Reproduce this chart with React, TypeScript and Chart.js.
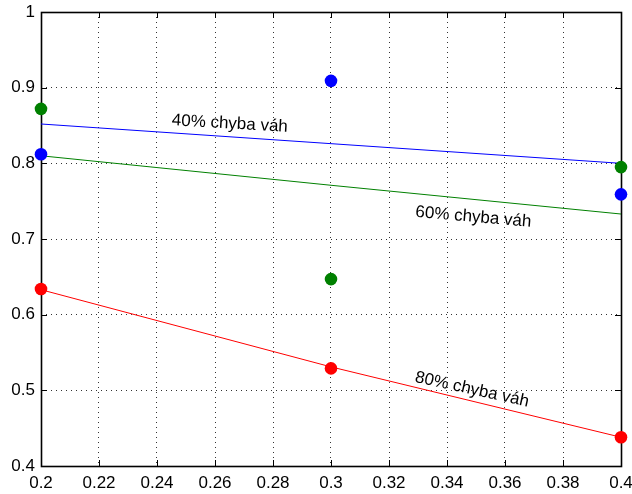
import { useEffect, useRef } from "react";
import { Chart, registerables } from "chart.js";

Chart.register(...registerables);

// Axis ticks
const xTicks = [0.2, 0.22, 0.24, 0.26, 0.28, 0.3, 0.32, 0.34, 0.36, 0.38, 0.4];
const yTicks = [0.4, 0.5, 0.6, 0.7, 0.8, 0.9, 1];

// Measured points
const pointX = [0.2, 0.3, 0.4];
const blueDots = [0.812, 0.909, 0.759];
const greenDots = [0.872, 0.647, 0.795];
const redDots = [0.634, 0.529, 0.438];

// Trend lines
const fitX = [0.2, 0.3, 0.4];
const blueFit = [0.852, 0.826, 0.8];
const greenFit = [0.81, 0.771, 0.733];
const redFit = [0.633, 0.531, 0.438];

// Inline line labels (anchor = start of baseline, angle in degrees)
const labelTexts = ["40% chyba váh", "60% chyba váh", "80% chyba váh"];
const labelX = [0.245, 0.329, 0.3287];
const labelY = [0.8505, 0.7293, 0.5114];
const labelAngles = [3.3, 4.9, 12.4];

const FONT = "'Liberation Sans', Arial, Helvetica, sans-serif";

const toXY = (xs: number[], ys: number[]) => xs.map((x, i) => ({ x, y: ys[i] }));
const fmt = (v: number | string) => String(parseFloat(Number(v).toFixed(2)));

const framePlugin = {
  id: "frame",
  beforeDatasetsDraw(chart: any) {
    const { ctx, chartArea: a, scales } = chart;
    ctx.save();
    ctx.strokeStyle = "#000";
    ctx.lineWidth = 1;
    // inward tick marks on all four sides
    const tl = 6;
    ctx.beginPath();
    xTicks.forEach((v) => {
      const px = Math.round(scales.x.getPixelForValue(v)) + 0.5;
      ctx.moveTo(px, a.bottom);
      ctx.lineTo(px, a.bottom - tl);
      ctx.moveTo(px, a.top);
      ctx.lineTo(px, a.top + tl);
    });
    yTicks.forEach((v) => {
      const py = Math.round(scales.y.getPixelForValue(v)) + 0.5;
      ctx.moveTo(a.left, py);
      ctx.lineTo(a.left + tl, py);
      ctx.moveTo(a.right, py);
      ctx.lineTo(a.right - tl, py);
    });
    ctx.stroke();
    // box around plot area
    ctx.lineWidth = 1.6;
    ctx.strokeRect(a.left + 0.5, a.top + 0.5, a.right - a.left, a.bottom - a.top);
    ctx.restore();
  },
  afterDatasetsDraw(chart: any) {
    const { ctx, scales } = chart;
    ctx.save();
    ctx.fillStyle = "#000";
    ctx.font = `17px ${FONT}`;
    ctx.textAlign = "left";
    ctx.textBaseline = "alphabetic";
    labelTexts.forEach((t, i) => {
      const px = scales.x.getPixelForValue(labelX[i]);
      const py = scales.y.getPixelForValue(labelY[i]);
      ctx.save();
      ctx.translate(px, py);
      ctx.rotate((labelAngles[i] * Math.PI) / 180);
      ctx.fillText(t, 0, 0);
      ctx.restore();
    });
    ctx.restore();
  },
};

export default function App() {
  const ref = useRef<HTMLCanvasElement | null>(null);

  useEffect(() => {
    if (!ref.current) return;
    const lineDs = (data: number[], color: string) => ({
      data: toXY(fitX, data),
      showLine: true,
      borderColor: color,
      borderWidth: 1,
      pointRadius: 0,
      fill: false,
      order: 2,
      clip: false as any,
    });
    const dotDs = (data: number[], color: string) => ({
      data: toXY(pointX, data),
      showLine: false,
      backgroundColor: color,
      borderColor: color,
      borderWidth: 0,
      pointRadius: 6.3,
      order: 1,
      clip: false as any,
    });
    const chart = new Chart(ref.current, {
      type: "scatter",
      data: {
        datasets: [
          dotDs(blueDots, "#0000ff"),
          dotDs(greenDots, "#008000"),
          dotDs(redDots, "#ff0000"),
          lineDs(blueFit, "#0000ff"),
          lineDs(greenFit, "#008000"),
          lineDs(redFit, "#ff0000"),
        ],
      },
      options: {
        animation: false,
        responsive: false,
        devicePixelRatio: 1,
        layout: { padding: { top: 12, right: 11, left: 0, bottom: 0 } },
        plugins: { legend: { display: false }, tooltip: { enabled: false } },
        scales: {
          x: {
            type: "linear",
            min: 0.2,
            max: 0.4,
            afterBuildTicks: (s: any) => {
              s.ticks = xTicks.map((value) => ({ value }));
            },
            afterFit: (s: any) => {
              s.height = 28;
              s.paddingLeft = 0;
              s.paddingRight = 0;
            },
            grid: { color: "#333", lineWidth: 1, drawTicks: false },
            border: { display: false, dash: [1, 4] },
            ticks: {
              color: "#000",
              font: { family: FONT, size: 17 },
              padding: 7,
              maxRotation: 0,
              autoSkip: false,
              callback: (v: any) => fmt(v),
            },
          },
          y: {
            type: "linear",
            min: 0.4,
            max: 1,
            afterBuildTicks: (s: any) => {
              s.ticks = yTicks.map((value) => ({ value }));
            },
            afterFit: (s: any) => {
              s.width = 41;
              s.paddingTop = 0;
              s.paddingBottom = 0;
            },
            grid: { color: "#333", lineWidth: 1, drawTicks: false },
            border: { display: false, dash: [1, 4] },
            ticks: {
              color: "#000",
              font: { family: FONT, size: 17 },
              padding: 6,
              autoSkip: false,
              callback: (v: any) => fmt(v),
            },
          },
        },
      },
      plugins: [framePlugin],
    } as any);
    return () => chart.destroy();
  }, []);

  return (
    <div style={{ position: "fixed", left: 0, top: 0, width: 632, height: 494, background: "#fff" }}>
      <canvas ref={ref} width={632} height={494} />
    </div>
  );
}
